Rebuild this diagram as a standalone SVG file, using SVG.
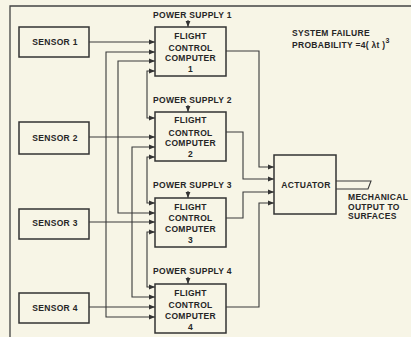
<svg xmlns="http://www.w3.org/2000/svg" width="411" height="337" viewBox="0 0 411 337">
<defs>
<style>
.bg{fill:#f7f5e6}
.box{fill:none;stroke:#333;stroke-width:1.5}
.ln{fill:none;stroke:#3a3a3a;stroke-width:1.1}
.fr{fill:none;stroke:#444;stroke-width:1.3}
text{font-family:"Liberation Sans",Arial,sans-serif;font-weight:bold;font-size:8.5px;fill:#262626;letter-spacing:0.3px}
.c{text-anchor:middle}
</style>
<marker id="ah" viewBox="0 0 6 6" refX="6" refY="3" markerWidth="6" markerHeight="6" orient="auto-start-reverse" markerUnits="userSpaceOnUse">
<path d="M0,0.6 L6,3 L0,5.4 Z" fill="#333"/>
</marker>
</defs>
<rect class="bg" x="0" y="0" width="411" height="337"/>
<path class="fr" d="M10,337 V6 H411"/>

<g id="sensor1"><rect class="box" x="19" y="27" width="70" height="30"/><text class="c" x="55" y="45">SENSOR 1</text></g>
<g id="sensor2"><rect class="box" x="19" y="122" width="70" height="32"/><text class="c" x="55" y="141">SENSOR 2</text></g>
<g id="sensor3"><rect class="box" x="19" y="209" width="70" height="30"/><text class="c" x="55" y="226">SENSOR 3</text></g>
<g id="sensor4"><rect class="box" x="19" y="293" width="70" height="30"/><text class="c" x="55" y="311">SENSOR 4</text></g>

<g id="fcc1"><text x="153" y="18">POWER SUPPLY 1</text><rect class="box" x="155" y="27" width="71" height="49"/>
<text class="c" x="190.5" y="38.5">FLIGHT</text><text class="c" x="190.5" y="50.5">CONTROL</text><text class="c" x="190.5" y="61">COMPUTER</text><text class="c" x="190.5" y="72">1</text></g>
<g id="fcc2"><text x="153" y="103">POWER SUPPLY 2</text><rect class="box" x="155" y="112" width="71" height="49"/>
<text class="c" x="190.5" y="123">FLIGHT</text><text class="c" x="190.5" y="135.5">CONTROL</text><text class="c" x="190.5" y="146">COMPUTER</text><text class="c" x="190.5" y="157">2</text></g>
<g id="fcc3"><text x="153" y="188">POWER SUPPLY 3</text><rect class="box" x="155" y="198" width="71" height="49"/>
<text class="c" x="190.5" y="209.5">FLIGHT</text><text class="c" x="190.5" y="221">CONTROL</text><text class="c" x="190.5" y="232">COMPUTER</text><text class="c" x="190.5" y="242.5">3</text></g>
<g id="fcc4"><text x="153" y="273.5">POWER SUPPLY 4</text><rect class="box" x="155" y="284" width="71" height="49"/>
<text class="c" x="190.5" y="295.5">FLIGHT</text><text class="c" x="190.5" y="308">CONTROL</text><text class="c" x="190.5" y="318.5">COMPUTER</text><text class="c" x="190.5" y="329.5">4</text></g>

<g id="actuator"><rect class="box" x="274" y="155" width="62" height="59"/><text class="c" x="306" y="187.5">ACTUATOR</text>
<path class="ln" d="M336,181 H371 L368,189 H336"/></g>

<g id="notes">
<text x="348" y="200">MECHANICAL</text><text x="348" y="209.5">OUTPUT TO</text><text x="348" y="219">SURFACES</text>
<text x="292" y="36">SYSTEM FAILURE</text>
<text x="292" y="48">PROBABILITY =4( λt )<tspan font-size="7" dy="-5">3</tspan></text>
</g>

<g id="connectors" marker-end="url(#ah)">
<path class="ln" d="M89,42 H155"/>
<path class="ln" d="M89,137 H155"/>
<path class="ln" d="M89,222 H155"/>
<path class="ln" d="M89,307 H155"/>
<path class="ln" marker-start="url(#ah)" d="M155,52 H106 V317 H155"/>
<path class="ln" marker-start="url(#ah)" d="M155,61 H118 V213 H155"/>
<path class="ln" marker-start="url(#ah)" d="M155,147 H132 V297 H155"/>
<path class="ln" marker-start="url(#ah)" d="M155,71 H147 V118 H155"/>
<path class="ln" marker-start="url(#ah)" d="M155,157 H147 V203 H155"/>
<path class="ln" marker-start="url(#ah)" d="M155,232 H147 V287 H155"/>
<path class="ln" d="M188,20 V27"/>
<path class="ln" d="M188,105 V112"/>
<path class="ln" d="M188,191 V198"/>
<path class="ln" d="M188,277 V284"/>
<path class="ln" d="M226,51 H259 V167 H274"/>
<path class="ln" d="M226,132 H243 V179 H274"/>
<path class="ln" d="M226,218 H243 V192 H274"/>
<path class="ln" d="M226,307 H259 V203 H274"/>
</g>
</svg>
